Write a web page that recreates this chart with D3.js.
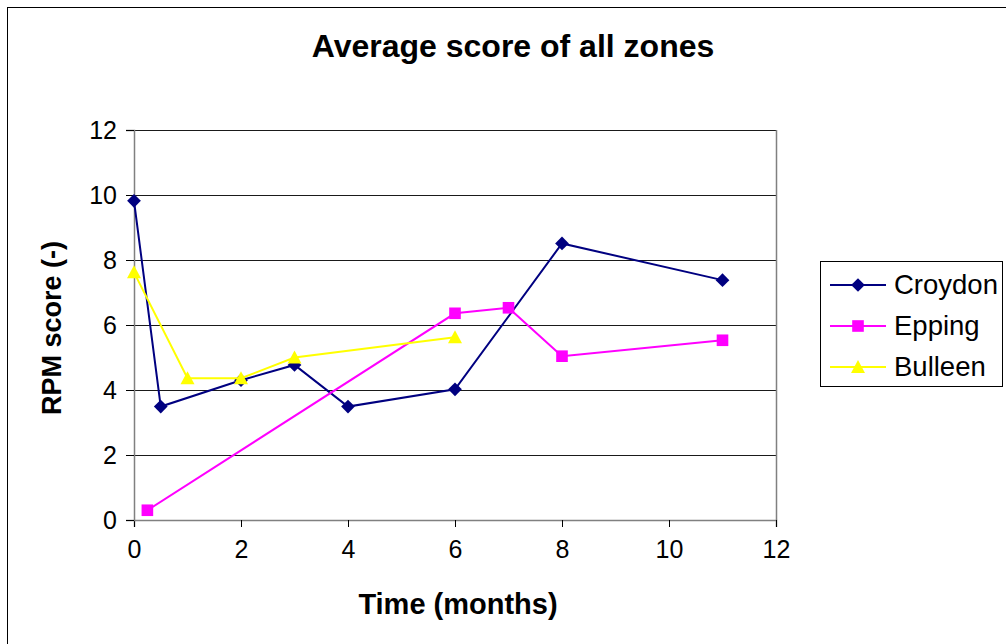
<!DOCTYPE html>
<html>
<head>
<meta charset="utf-8">
<script src="https://cdn.jsdelivr.net/npm/d3@7/dist/d3.min.js"></script>
<style>
  html, body { margin: 0; padding: 0; background: #fff; }
  svg { display: block; font-family: "Liberation Sans", Arial, sans-serif; }
</style>
</head>
<body>
<svg id="chart" width="1006" height="644"></svg>
<script>
// Series data: time (months) and RPM score
const croydonX = [0, 0.5, 2, 3, 4, 6, 8, 11];
const croydonY = [9.82, 3.49, 4.3, 4.77, 3.49, 4.02, 8.51, 7.38];
const eppingX = [0.25, 6, 7, 8, 11];
const eppingY = [0.3, 6.36, 6.53, 5.04, 5.53];
const bulleenX = [0, 1, 2, 3, 6];
const bulleenY = [7.62, 4.36, 4.36, 5.0, 5.62];

const seriesNames = ["Croydon", "Epping", "Bulleen"];
const seriesColors = ["#000080", "#FF00FF", "#FFFF00"];
const seriesMarkers = ["diamond", "square", "triangle"];
const xTicks = [0, 2, 4, 6, 8, 10, 12];
const yTicks = [0, 2, 4, 6, 8, 10, 12];

const chartTitle = "Average score of all zones";
const xTitle = "Time (months)";
const yTitle = "RPM score (-)";

const series = [
  { name: seriesNames[0], xs: croydonX, ys: croydonY, color: seriesColors[0], marker: seriesMarkers[0] },
  { name: seriesNames[1], xs: eppingX, ys: eppingY, color: seriesColors[1], marker: seriesMarkers[1] },
  { name: seriesNames[2], xs: bulleenX, ys: bulleenY, color: seriesColors[2], marker: seriesMarkers[2] }
];

const svg = d3.select("#chart");

// Outer chart frame
svg.append("rect")
  .attr("x", 7.5).attr("y", 7.5)
  .attr("width", 1010).attr("height", 650)
  .attr("fill", "#fff").attr("stroke", "#000").attr("stroke-width", 1);

const plot = { left: 134, right: 776, top: 130, bottom: 520 };

const x = d3.scaleLinear().domain([0, 12]).range([plot.left, plot.right]);
const y = d3.scaleLinear().domain([0, 12]).range([plot.bottom, plot.top]);

// Horizontal gridlines
svg.append("g")
  .selectAll("line")
  .data(yTicks.filter(v => v > 0))
  .join("line")
  .attr("x1", plot.left).attr("x2", plot.right)
  .attr("y1", d => Math.round(y(d)) + 0.5).attr("y2", d => Math.round(y(d)) + 0.5)
  .attr("stroke", "#1a1a1a").attr("stroke-width", 1.2);

// Plot area right border
svg.append("line")
  .attr("x1", plot.right + 0.5).attr("x2", plot.right + 0.5)
  .attr("y1", plot.top).attr("y2", plot.bottom)
  .attr("stroke", "#808080").attr("stroke-width", 1.5);

// Axes
const xAxis = d3.axisBottom(x).tickValues(xTicks).tickSize(7).tickPadding(13).tickFormat(d3.format("d"));
const yAxis = d3.axisLeft(y).tickValues(yTicks).tickSize(8).tickPadding(9).tickFormat(d3.format("d"));

const gx = svg.append("g").attr("transform", `translate(0,${plot.bottom})`).call(xAxis);
const gy = svg.append("g").attr("transform", `translate(${plot.left},0)`).call(yAxis);

[gx, gy].forEach(g => {
  g.select(".domain").attr("stroke", "#808080").attr("stroke-width", 1.5);
  g.selectAll(".tick line").attr("stroke", "#000").attr("stroke-width", 1);
  g.selectAll(".tick text")
    .attr("fill", "#000")
    .style("font-size", "25px")
    .style("font-family", "'Liberation Sans', Arial, sans-serif");
});
gx.selectAll(".tick text").attr("dy", "0.72em");

// Marker shapes
function markerPath(type) {
  if (type === "diamond") return d3.symbol().type(d3.symbolDiamond2).size(120)();
  if (type === "square") return d3.symbol().type(d3.symbolSquare).size(135)();
  return "M0,-7L7,6L-7,6Z";
}

const line = d3.line().x(d => x(d[0])).y(d => y(d[1]));

series.forEach(s => {
  const pts = s.xs.map((v, i) => [v, s.ys[i]]);
  svg.append("path")
    .datum(pts)
    .attr("d", line)
    .attr("fill", "none")
    .attr("stroke", s.color)
    .attr("stroke-width", 2);
  svg.append("g")
    .selectAll("path")
    .data(pts)
    .join("path")
    .attr("transform", d => `translate(${x(d[0])},${y(d[1])})`)
    .attr("d", markerPath(s.marker))
    .attr("fill", s.color);
});

// Title
svg.append("text")
  .attr("x", 513).attr("y", 57)
  .attr("text-anchor", "middle")
  .style("font-size", "32px").style("font-weight", "bold")
  .text(chartTitle);

// Axis titles
svg.append("text")
  .attr("x", 458).attr("y", 614)
  .attr("text-anchor", "middle")
  .style("font-size", "29px").style("font-weight", "bold")
  .text(xTitle);

svg.append("text")
  .attr("transform", "translate(61,328) rotate(-90)")
  .attr("text-anchor", "middle")
  .style("font-size", "27px").style("font-weight", "bold")
  .text(yTitle);

// Legend
const legend = svg.append("g");
legend.append("rect")
  .attr("x", 820.5).attr("y", 261.5)
  .attr("width", 182).attr("height", 125)
  .attr("fill", "#fff").attr("stroke", "#000").attr("stroke-width", 1);

const legendY = [285, 326, 367];
series.forEach((s, i) => {
  const ly = legendY[i];
  legend.append("line")
    .attr("x1", 830).attr("x2", 886)
    .attr("y1", ly).attr("y2", ly)
    .attr("stroke", s.color).attr("stroke-width", 2);
  legend.append("path")
    .attr("transform", `translate(858,${ly})`)
    .attr("d", markerPath(s.marker))
    .attr("fill", s.color);
  legend.append("text")
    .attr("x", 894).attr("y", ly + 9)
    .style("font-size", "27.5px")
    .text(s.name);
});
</script>
</body>
</html>
